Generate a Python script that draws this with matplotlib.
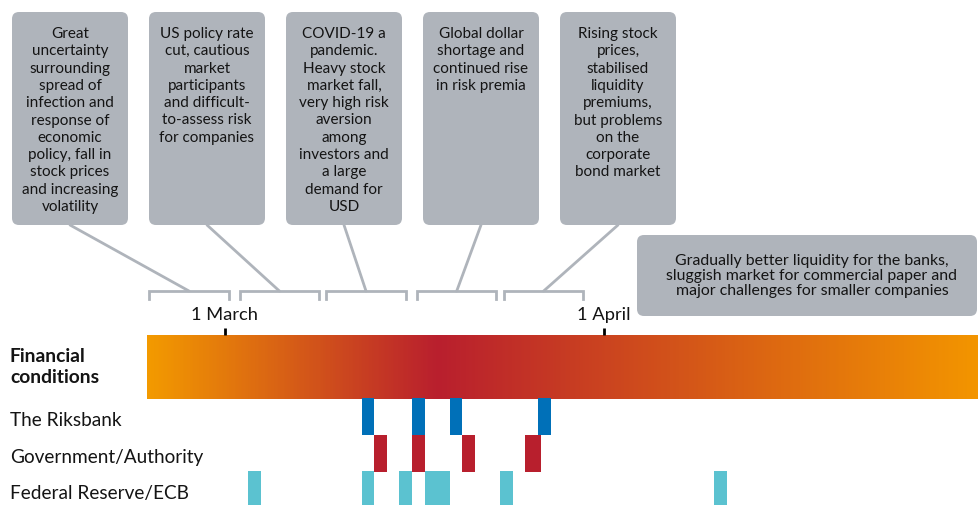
import numpy as np
import matplotlib
matplotlib.use("Agg")
import matplotlib.pyplot as plt
from matplotlib.colors import LinearSegmentedColormap
from matplotlib.patches import FancyBboxPatch, ConnectionPatch

plt.rcParams["font.family"] = ["Lato", "DejaVu Sans"]

# timeline in days after 1 March 2020 (bar = start of day, one day wide)
tick_labels = ["1 March", "1 April"]
tick_days = [0.15, 30.2]

riksbank_days = [11, 15, 18, 25]
riksbank_widths = [1, 1, 1, 1]
government_days = [12, 15, 19, 24]
government_widths = [1, 1, 1, 1.2]
fedecb_days = [2, 11, 14, 16, 22, 39]
fedecb_widths = [1, 1, 1, 2, 1, 1]

# financial conditions colour: calm (orange) -> stress peak (red) -> calmer
condition_days = [-6, 17, 60]
condition_colors = ["#F39A00", "#B91F2E", "#F39500"]

# weekly periods the comments refer to
period_start = [-5.9, 1.35, 8.2, 15.4, 22.3]
period_end = [0.5, 7.6, 14.5, 21.7, 28.6]

comments = [
    "Great\nuncertainty\nsurrounding\nspread of\ninfection and\nresponse of\neconomic\npolicy, fall in\nstock prices\nand increasing\nvolatility",
    "US policy rate\ncut, cautious\nmarket\nparticipants\nand difficult-\nto-assess risk\nfor companies",
    "COVID-19 a\npandemic.\nHeavy stock\nmarket fall,\nvery high risk\naversion\namong\ninvestors and\na large\ndemand for\nUSD",
    "Global dollar\nshortage and\ncontinued rise\nin risk premia",
    "Rising stock\nprices,\nstabilised\nliquidity\npremiums,\nbut problems\non the\ncorporate\nbond market",
]
late_comment = ("Gradually better liquidity for the banks,\n"
                "sluggish market for commercial paper and\n"
                "major challenges for smaller companies")

row_labels = ["The Riksbank", "Government/Authority", "Federal Reserve/ECB"]

BOX_GREY = "#AFB4BB"
TEXT = "#141414"
W, H = 979, 505

fig = plt.figure(figsize=(W / 100, H / 100), dpi=100)

# pixel-space layer for boxes and labels
lay = fig.add_axes([0, 0, 1, 1])
lay.set_xlim(0, W)
lay.set_ylim(H, 0)
lay.axis("off")

# timeline layer: x in days, y in the same pixel rows
ax = fig.add_axes([0, 0, 1, 1])
ax.set_xlim(-223 / 12.6, (W - 223) / 12.6)
ax.set_ylim(H, 0)
ax.axis("off")
ax.patch.set_alpha(0)

# gradient bar
span = condition_days[-1] - condition_days[0]
cmap = LinearSegmentedColormap.from_list(
    "fc", [((d - condition_days[0]) / span, c) for d, c in zip(condition_days, condition_colors)])
ax.imshow(np.linspace(0, 1, 600)[None, :], cmap=cmap, aspect="auto",
          extent=(condition_days[0], condition_days[-1], 399, 335), interpolation="bilinear")

# measure rows
ax.bar(riksbank_days, 37, bottom=398, width=riksbank_widths, align="edge", color="#0070B8")
ax.bar(government_days, 37, bottom=435, width=government_widths, align="edge", color="#B81F2D")
ax.bar(fedecb_days, 34, bottom=471, width=fedecb_widths, align="edge", color="#5BC2D0")

# date ticks
ax.vlines(tick_days, 328, 335, color="black", lw=2)
for d, lab in zip(tick_days, tick_labels):
    ax.text(d, 315, lab, ha="center", va="center", fontsize=13.2, color=TEXT)

# brackets
for s, e in zip(period_start, period_end):
    ax.plot([s, s, e, e], [299, 291, 291, 299], color=BOX_GREY, lw=2, solid_joinstyle="miter")

# comment boxes with connectors
box_w = 116
for i, txt in enumerate(comments):
    x0 = 12 + i * 137
    lay.add_patch(FancyBboxPatch((x0, 12), box_w, 213, boxstyle="round,pad=0,rounding_size=7",
                                 fc=BOX_GREY, ec="none"))
    lay.text(x0 + box_w / 2, 27, txt, ha="center", va="top", fontsize=11,
             color=TEXT, linespacing=1.3)
    mid = (period_start[i] + period_end[i]) / 2
    fig.add_artist(ConnectionPatch(xyA=(x0 + box_w / 2, 225), coordsA=lay.transData,
                                   xyB=(mid, 291), coordsB=ax.transData,
                                   color=BOX_GREY, lw=2))

lay.add_patch(FancyBboxPatch((637, 235), 340, 81, boxstyle="round,pad=0,rounding_size=7",
                             fc=BOX_GREY, ec="none"))
lay.text(812, 276, late_comment, ha="center", va="center", fontsize=11.4,
         color=TEXT, linespacing=1.12)

# row labels
lay.text(10, 367, "Financial\nconditions", ha="left", va="center", fontsize=13.9,
         fontweight="bold", color=TEXT, linespacing=1.22)
for lab, y in zip(row_labels, [420, 457, 493]):
    lay.text(10, y, lab, ha="left", va="center", fontsize=13.7, color=TEXT)

fig.savefig("out.png", dpi=100)
